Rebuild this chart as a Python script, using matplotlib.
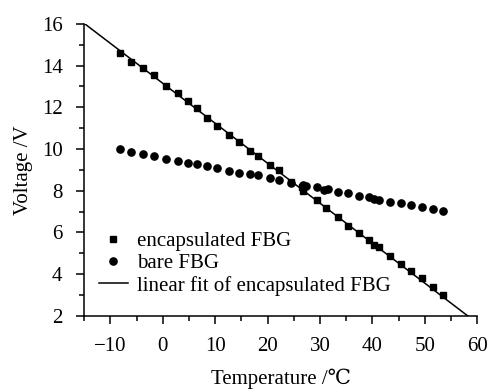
import matplotlib
matplotlib.use("Agg")
import matplotlib.pyplot as plt
import numpy as np
from matplotlib.ticker import MultipleLocator

plt.rcParams['font.family'] = ['Liberation Serif', 'DejaVu Serif']
plt.rcParams['mathtext.fontset'] = 'stix'

# encapsulated FBG
enc_T = [-8.1, -6.0, -3.8, -1.7, 0.6, 2.9, 4.8, 6.6, 8.4, 10.4, 12.6, 14.5, 16.6, 18.1,
         20.4, 22.2, 24.5, 26.6, 26.8, 29.4, 31.2, 33.4, 35.3, 37.4, 39.3, 40.3, 41.2,
         43.4, 45.4, 47.4, 49.4, 51.5, 53.5]
enc_V = [14.60, 14.16, 13.88, 13.56, 13.03, 12.68, 12.32, 11.96, 11.48, 11.08, 10.68, 10.33,
         9.91, 9.67, 9.22, 8.99, 8.41, 8.18, 7.98, 7.56, 7.16, 6.75, 6.32, 5.97, 5.65, 5.41,
         5.30, 4.88, 4.49, 4.17, 3.81, 3.38, 2.98]

# bare FBG
bare_T = [-8.1, -6.0, -3.8, -1.7, 0.6, 2.9, 4.8, 6.6, 8.4, 10.4, 12.6, 14.5, 16.6, 18.1,
          20.4, 22.2, 24.5, 26.7, 27.3, 29.4, 30.8, 31.5, 33.4, 35.3, 37.4, 39.3, 40.3,
          41.2, 43.4, 45.4, 47.4, 49.4, 51.5, 53.5]
bare_V = [10.01, 9.88, 9.75, 9.66, 9.51, 9.45, 9.35, 9.27, 9.19, 9.11, 8.94, 8.87, 8.81,
          8.76, 8.63, 8.52, 8.39, 8.28, 8.25, 8.17, 8.04, 8.09, 7.93, 7.88, 7.77, 7.69,
          7.61, 7.56, 7.48, 7.40, 7.32, 7.21, 7.13, 7.05]

# linear fit of encapsulated FBG
fit_T = [-15, 60]
fit_slope = -0.1916
fit_intercept = 13.15

fig = plt.figure(figsize=(4.92, 3.91), dpi=100)
ax = fig.add_axes([0.171, 0.192, 0.799, 0.747])

ft = np.array(fit_T, dtype=float)
ax.plot(ft, fit_intercept + fit_slope * ft, color='black', lw=1.1,
        label='linear fit of encapsulated FBG', zorder=2)
ax.plot(enc_T, enc_V, 's', color='black', ms=4.7, label='encapsulated FBG', zorder=3)
ax.plot(bare_T, bare_V, 'o', color='black', ms=5.2, label='bare FBG', zorder=3)

ax.set_xlim(-15, 60)
ax.set_ylim(2, 16)
ax.xaxis.set_major_locator(MultipleLocator(10))
ax.xaxis.set_minor_locator(MultipleLocator(5))
ax.yaxis.set_major_locator(MultipleLocator(2))
ax.yaxis.set_minor_locator(MultipleLocator(1))
ax.spines['top'].set_visible(False)
ax.spines['right'].set_visible(False)
for s in ('left', 'bottom'):
    ax.spines[s].set_linewidth(1.1)
ax.tick_params(which='major', direction='out', length=5.5, width=1.1, labelsize=15)
ax.tick_params(axis='x', which='major', pad=10)
ax.tick_params(axis='y', which='major', pad=10)
ax.tick_params(which='minor', direction='out', length=3.3, width=1.1)

xt = [-10, 0, 10, 20, 30, 40, 50, 60]
ax.set_xticks(xt)
ax.set_xticklabels(['\u221210' if v < 0 else str(v) for v in xt])

ax.set_xlabel('Temperature /\u2103', fontsize=15, labelpad=9)
ax.set_ylabel('Voltage /V', fontsize=15, labelpad=6)

handles, labels = ax.get_legend_handles_labels()
order = [1, 2, 0]
ax.legend([handles[i] for i in order], [labels[i] for i in order], loc='lower left',
          frameon=False, fontsize=15, handlelength=1.4, handletextpad=0.43,
          labelspacing=0.12, borderaxespad=0.3, bbox_to_anchor=(0.0, 0.02))

fig.savefig('out.png', dpi=100)
